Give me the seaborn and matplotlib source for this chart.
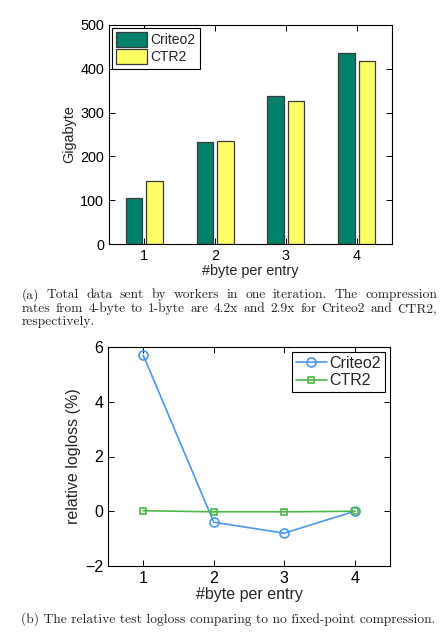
import matplotlib
matplotlib.use('Agg')
import numpy as np
import pandas as pd
import matplotlib.pyplot as plt
import seaborn as sns

# data
byte_sizes = [1, 2, 3, 4]
datasets = ['Criteo2', 'CTR2']
gigabyte_criteo = [105, 234, 337, 436]
gigabyte_ctr = [143, 236, 327, 418]
logloss_criteo = [5.7, -0.4, -0.8, 0.0]
logloss_ctr = [0.02, -0.02, -0.02, 0.0]
bar_yticks = [0, 100, 200, 300, 400, 500]
line_yticks = [-2, 0, 2, 4, 6]

caption_a = [
    "(a) Total data sent by workers in one iteration.  The compression",
    "rates from 4-byte to 1-byte are 4.2x and 2.9x for Criteo2 and CTR2,",
    "respectively.",
]
caption_b = "(b) The relative test logloss comparing to no fixed-point compression."

W, H = 448, 638
sns.set_style('ticks')
plt.rcParams['font.family'] = ['Liberation Sans', 'DejaVu Sans']

fig = plt.figure(figsize=(W / 100, H / 100), dpi=100)


def px_axes(left, top, right, bottom):
    return fig.add_axes([left / W, 1 - bottom / H, (right - left) / W, (bottom - top) / H])


def style_box(ax, fs):
    for s in ax.spines.values():
        s.set_visible(True)
        s.set_linewidth(0.8)
        s.set_color('black')
    ax.tick_params(direction='in', length=4, width=0.7, top=True, right=True,
                   labelsize=fs, colors='black')


# --- (a) grouped bars ---
bar_df = pd.DataFrame({
    'byte': [str(b) for b in byte_sizes] * 2,
    'dataset': [datasets[0]] * 4 + [datasets[1]] * 4,
    'gigabyte': gigabyte_criteo + gigabyte_ctr,
})
ax1 = px_axes(109, 25, 392, 244)
sns.barplot(data=bar_df, x='byte', y='gigabyte', hue='dataset', hue_order=datasets,
            palette=['#00806A', '#FFFF66'], saturation=1, width=0.58, gap=0.2,
            edgecolor='#3a3a3a', linewidth=0.9, errorbar=None, ax=ax1)
ax1.set_xlim(-0.5, 3.5)
ax1.set_ylim(0, 500)
ax1.set_yticks(bar_yticks)
ax1.set_xlabel('#byte per entry', fontsize=10.4, labelpad=1)
ax1.set_ylabel('Gigabyte', fontsize=10.4, labelpad=3)
style_box(ax1, 10.4)
ax1.legend(loc='upper left', fontsize=10, frameon=True, fancybox=False, framealpha=1,
           edgecolor='black', borderpad=0.3, handlelength=2.2, handleheight=1.3,
           handletextpad=0.3, labelspacing=0.15, borderaxespad=0.2).get_frame().set_linewidth(0.8)

# --- (b) relative logloss ---
line_df = pd.DataFrame({
    'byte': byte_sizes * 2,
    'dataset': [datasets[0]] * 4 + [datasets[1]] * 4,
    'logloss': logloss_criteo + logloss_ctr,
})
ax2 = px_axes(108, 347, 390, 566)
sns.lineplot(data=line_df, x='byte', y='logloss', hue='dataset', style='dataset',
             hue_order=datasets, style_order=datasets,
             markers={'Criteo2': 'o', 'CTR2': 's'}, dashes=False,
             palette=['#4A98EE', '#4CB848'], linewidth=1.2, markersize=6,
             legend=False, ax=ax2)
for ln, ms in zip(ax2.lines, [6.5, 4.8]):
    ln.set_markerfacecolor('none')
    ln.set_markeredgecolor(ln.get_color())
    ln.set_markeredgewidth(1.2)
    ln.set_markersize(ms)
ax2.set_xlim(0.5, 4.5)
ax2.set_ylim(-2, 6)
ax2.set_xticks(byte_sizes)
ax2.set_yticks(line_yticks)
ax2.set_xlabel('#byte per entry', fontsize=11.5, labelpad=1)
ax2.set_ylabel('relative logloss (%)', fontsize=11.5, labelpad=3)
style_box(ax2, 11.5)
leg = ax2.legend(ax2.lines[:2], datasets, loc='upper right', fontsize=11.5, frameon=True,
                 fancybox=False, framealpha=1, edgecolor='black', borderpad=0.25,
                 handlelength=1.9, handletextpad=0.2, labelspacing=0.15, borderaxespad=0.3)
leg.get_frame().set_linewidth(0.8)

# --- captions (serif, justified like LaTeX) ---
renderer = fig.canvas.get_renderer()
probe = fig.text(0, 0, caption_b, fontsize=10, family='cmr10')
cap_size = 10 * 411 / probe.get_window_extent(renderer).width
probe.remove()


def caption_line(text, x0, x1, y, justify):
    if not justify:
        fig.text(x0 / W, 1 - y / H, text, fontsize=cap_size, family='cmr10', va='center')
        return
    words = text.split()
    objs = [fig.text(0, 1 - y / H, w, fontsize=cap_size, family='cmr10', va='center')
            for w in words]
    widths = [o.get_window_extent(renderer).width for o in objs]
    gap = (x1 - x0 - sum(widths)) / (len(words) - 1)
    x = x0
    for o, w in zip(objs, widths):
        o.set_x(x / W)
        x += w + gap


caption_line(caption_a[0], 22, 437, 295, True)
caption_line(caption_a[1], 22, 437, 309, True)
caption_line(caption_a[2], 22, 437, 322, False)
caption_line(caption_b, 21, 432, 619, False)

fig.savefig('out.png', dpi=100)
